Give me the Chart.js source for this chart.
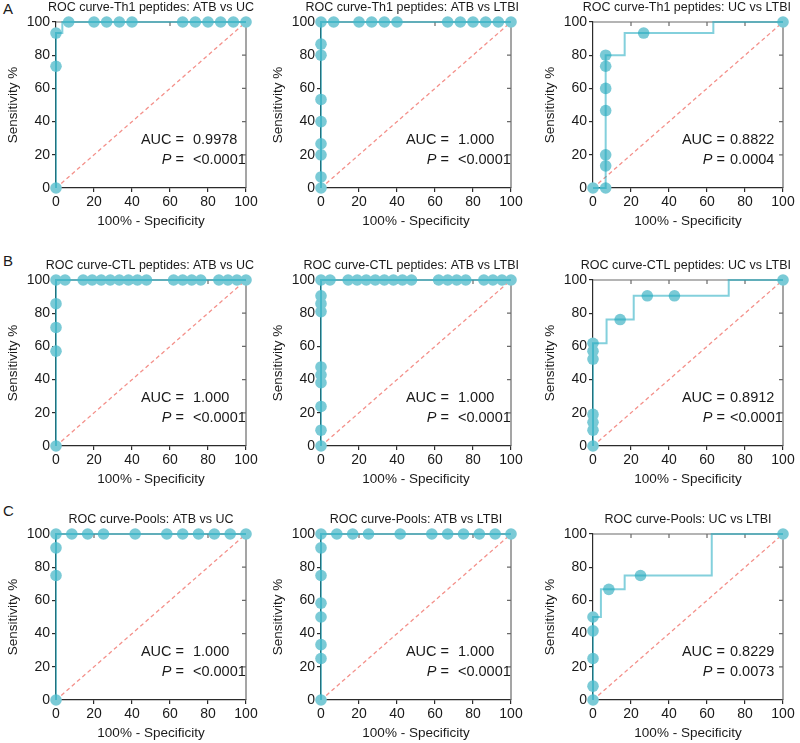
<!DOCTYPE html>
<html>
<head>
<meta charset="utf-8">
<script src="https://cdn.jsdelivr.net/npm/chart.js@4.4.0/dist/chart.umd.min.js"></script>
<style>
  body { margin:0; background:#fff; width:800px; height:743px; position:relative; overflow:hidden; font-family:'Liberation Sans', Arial, sans-serif; }
  canvas { position:absolute; }
  .lab { position:absolute; font-size:15px; line-height:15px; color:#1a1a1a; }
</style>
</head>
<body>
<div class="lab" style="left:3px;top:1px">A</div>
<div class="lab" style="left:3px;top:253px">B</div>
<div class="lab" style="left:3px;top:503px">C</div>
<script>
// 100% - specificity (x) and sensitivity (y), one pair per panel
var th1AtbUcX = [0, 0, 0, 6.67, 20, 26.67, 33.33, 40, 66.67, 73.33, 80, 86.67, 93.33, 100];
var th1AtbUcY = [0, 73.33, 93.33, 100, 100, 100, 100, 100, 100, 100, 100, 100, 100, 100];

var th1AtbLtbiX = [0, 0, 0, 0, 0, 0, 0, 0, 0, 6.67, 20, 26.67, 33.33, 40, 66.67, 73.33, 80, 86.67, 93.33, 100];
var th1AtbLtbiY = [0, 6.67, 20, 26.67, 40, 53.33, 80, 86.67, 100, 100, 100, 100, 100, 100, 100, 100, 100, 100, 100, 100];

var th1UcLtbiX = [0, 6.67, 6.67, 6.67, 6.67, 6.67, 6.67, 6.67, 26.67, 100];
var th1UcLtbiY = [0, 0, 13.33, 20, 46.67, 60, 73.33, 80, 93.33, 100];

var ctlAtbUcX = [0, 0, 0, 0, 0, 4.76, 14.29, 19.05, 23.81, 28.57, 33.33, 38.1, 42.86, 47.62, 61.9, 66.67, 71.43, 76.19, 85.71, 90.48, 95.24, 100];
var ctlAtbUcY = [0, 57.14, 71.43, 85.71, 100, 100, 100, 100, 100, 100, 100, 100, 100, 100, 100, 100, 100, 100, 100, 100, 100, 100];

var ctlAtbLtbiX = [0, 0, 0, 0, 0, 0, 0, 0, 0, 0, 4.76, 14.29, 19.05, 23.81, 28.57, 33.33, 38.1, 42.86, 47.62, 61.9, 66.67, 71.43, 76.19, 85.71, 90.48, 95.24, 100];
var ctlAtbLtbiY = [0, 9.52, 23.81, 38.1, 42.86, 47.62, 80.95, 85.71, 90.48, 100, 100, 100, 100, 100, 100, 100, 100, 100, 100, 100, 100, 100, 100, 100, 100, 100, 100];

var ctlUcLtbiX = [0, 0, 0, 0, 0, 0, 0, 14.29, 28.57, 42.86, 100];
var ctlUcLtbiY = [0, 9.52, 14.29, 19.05, 52.38, 57.14, 61.9, 76.19, 90.48, 90.48, 100];

var poolAtbUcX = [0, 0, 0, 0, 8.33, 16.67, 25, 41.67, 58.33, 66.67, 75, 83.33, 91.67, 100];
var poolAtbUcY = [0, 75, 91.67, 100, 100, 100, 100, 100, 100, 100, 100, 100, 100, 100];

var poolAtbLtbiX = [0, 0, 0, 0, 0, 0, 0, 0, 8.33, 16.67, 25, 41.67, 58.33, 66.67, 75, 83.33, 91.67, 100];
var poolAtbLtbiY = [0, 25, 33.33, 50, 58.33, 75, 91.67, 100, 100, 100, 100, 100, 100, 100, 100, 100, 100, 100];

var poolUcLtbiX = [0, 0, 0, 0, 0, 8.33, 25, 100];
var poolUcLtbiY = [0, 8.33, 25, 41.67, 50, 66.67, 75, 100];

var titles = [
  'ROC curve-Th1 peptides: ATB vs UC', 'ROC curve-Th1 peptides: ATB vs LTBI', 'ROC curve-Th1 peptides: UC vs LTBI',
  'ROC curve-CTL peptides: ATB vs UC', 'ROC curve-CTL peptides: ATB vs LTBI', 'ROC curve-CTL peptides: UC vs LTBI',
  'ROC curve-Pools: ATB vs UC', 'ROC curve-Pools: ATB vs LTBI', 'ROC curve-Pools: UC vs LTBI'
];
var aucValues = ['0.9978', '1.000', '0.8822', '1.000', '1.000', '0.8912', '1.000', '1.000', '0.8229'];
var pValues = ['<0.0001', '<0.0001', '0.0004', '<0.0001', '<0.0001', '<0.0001', '<0.0001', '<0.0001', '0.0073'];
var axisTicks = [0, 20, 40, 60, 80, 100];

var xs = [th1AtbUcX, th1AtbLtbiX, th1UcLtbiX, ctlAtbUcX, ctlAtbLtbiX, ctlUcLtbiX, poolAtbUcX, poolAtbLtbiX, poolUcLtbiX];
var ys = [th1AtbUcY, th1AtbLtbiY, th1UcLtbiY, ctlAtbUcY, ctlAtbLtbiY, ctlUcLtbiY, poolAtbUcY, poolAtbLtbiY, poolUcLtbiY];

var FONT = "'Liberation Sans', Arial, sans-serif";
var colLeft = [1, 266, 538];
var rowTop = [0, 258, 512];
var labelRight = [128, 128, 132];

// top + right frame with inward ticks
var framePlugin = {
  id: 'frame',
  beforeDatasetsDraw: function(chart) {
    var a = chart.chartArea, ctx = chart.ctx;
    var sx = chart.scales.x, sy = chart.scales.y;
    ctx.save();
    ctx.strokeStyle = '#6a6a6a';
    ctx.lineWidth = 1.2;
    ctx.beginPath();
    ctx.moveTo(a.left, a.top);
    ctx.lineTo(a.right, a.top);
    ctx.lineTo(a.right, a.bottom);
    axisTicks.slice(1, 5).forEach(function(v) {
      var px = sx.getPixelForValue(v);
      ctx.moveTo(px, a.top); ctx.lineTo(px, a.top + 4);
      var py = sy.getPixelForValue(v);
      ctx.moveTo(a.right, py); ctx.lineTo(a.right - 4, py);
    });
    ctx.stroke();
    ctx.restore();
  }
};

var textPlugin = {
  id: 'texts',
  afterDraw: function(chart, args, opts) {
    var a = chart.chartArea, ctx = chart.ctx;
    ctx.save();
    ctx.fillStyle = '#1a1a1a';
    ctx.textBaseline = 'middle';
    ctx.font = '12.5px ' + FONT;
    var w = ctx.measureText(opts.title).width;
    var left = Math.min((a.left + a.right) / 2 - w / 2, chart.width - 9 - w);
    ctx.textAlign = 'left';
    ctx.fillText(opts.title, left, a.top - 14);

    ctx.font = '14.5px ' + FONT;
    ctx.textAlign = 'right';
    ctx.fillText('AUC =', a.left + opts.labelRight, a.top + 117.5);
    var eqW = ctx.measureText(' =').width;
    ctx.fillText(' =', a.left + opts.labelRight, a.top + 137.5);
    ctx.font = 'italic 14.5px ' + FONT;
    ctx.fillText('P', a.left + opts.labelRight - eqW, a.top + 137.5);
    ctx.font = '14.5px ' + FONT;
    ctx.textAlign = 'left';
    ctx.fillText(opts.auc, a.left + 137, a.top + 117.5);
    ctx.fillText(opts.p, a.left + 137, a.top + 137.5);
    ctx.restore();
  }
};

function axis(titleText, isX) {
  return {
    type: 'linear', min: 0, max: 100,
    ticks: { stepSize: 20, color: '#1a1a1a', font: { family: FONT, size: 14 }, padding: 2, maxRotation: 0, autoSkip: false },
    grid: { drawOnChartArea: false, drawTicks: true, tickLength: 4, color: '#2b2b2b', lineWidth: 1.2 },
    border: { display: true, color: '#2b2b2b', width: 1.2 },
    title: { display: true, text: titleText, color: '#1a1a1a', font: { family: FONT, size: 13.5 },
             padding: isX ? { top: 0, bottom: 1 } : { top: 4, bottom: 0 } },
    afterFit: function(s) { if (isX) s.height = 42; else s.width = 55; }
  };
}

for (var i = 0; i < 9; i++) {
  var col = i % 3, row = Math.floor(i / 3);
  var canvas = document.createElement('canvas');
  canvas.width = 262;
  canvas.height = 230;
  canvas.style.left = colLeft[col] + 'px';
  canvas.style.top = rowTop[row] + 'px';
  document.body.appendChild(canvas);

  var pts = xs[i].map(function(x, k) { return { x: x, y: ys[this][k] }; }, i);

  new Chart(canvas.getContext('2d'), {
    type: 'line',
    data: {
      datasets: [
        { data: [{ x: 0, y: 0 }, { x: 100, y: 100 }], borderColor: '#F4908A', borderWidth: 1.3, borderDash: [4, 3],
          pointRadius: 0, fill: false, order: 3, clip: false },
        { data: pts, showLine: false, pointBackgroundColor: '#7ACAD6', pointBorderWidth: 0, pointRadius: 5.8,
          order: 2, clip: false },
        { data: pts, stepped: 'middle', borderColor: 'rgba(30,170,192,0.55)', borderWidth: 2, pointRadius: 0,
          fill: false, order: 1, clip: false }
      ]
    },
    options: {
      responsive: false,
      animation: false,
      events: [],
      layout: { padding: { top: 22, right: 17, left: 0, bottom: 0 } },
      scales: { x: axis('100% - Specificity', true), y: axis('Sensitivity %', false) },
      plugins: {
        legend: { display: false },
        tooltip: { enabled: false },
        texts: { title: titles[i], auc: aucValues[i], p: pValues[i], labelRight: labelRight[col] }
      }
    },
    plugins: [framePlugin, textPlugin]
  });
}
</script>
</body>
</html>
